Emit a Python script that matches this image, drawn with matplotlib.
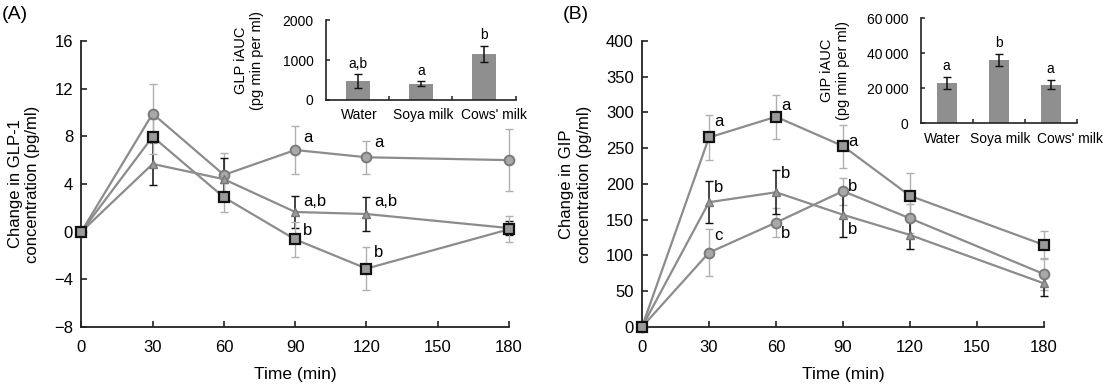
import numpy as np
import matplotlib
matplotlib.use('Agg')
import matplotlib.pyplot as plt
from matplotlib.ticker import FuncFormatter

plt.rcParams['font.family'] = ['Liberation Sans', 'DejaVu Sans']

# time points (min)
times = [0, 30, 60, 90, 120, 180]

# (A) GLP-1 change (pg/ml)
glp_circle = [0, 9.9, 4.76, 6.85, 6.24, 6.0]
glp_circle_err = [0, 2.5, 1.85, 2.0, 1.4, 2.6]
glp_square = [0, 7.97, 2.88, -0.65, -3.1, 0.2]
glp_square_err = [0, 1.45, 1.2, 1.5, 1.8, 1.1]
glp_tri = [0, 5.68, 4.4, 1.65, 1.48, 0.3]
glp_tri_err = [0, 1.8, 1.75, 1.35, 1.4, 0.6]

# (B) GIP change (pg/ml)
gip_square = [0, 265, 294, 253, 183.5, 114.7]
gip_square_err = [0, 31, 31, 30, 32, 19]
gip_tri = [0, 174.5, 188.4, 157, 128.7, 61]
gip_tri_err = [0, 29, 31, 31, 20, 17]
gip_circle = [0, 104, 146, 190, 152, 74]
gip_circle_err = [0, 33, 20, 19, 20, 22]

# significance letters: (time, label y, text)
glp_letters = [(90, 7.86, 'a'), (120, 7.44, 'a'), (90, 2.52, 'a,b'), (120, 2.52, 'a,b'),
               (90, 0.06, 'b'), (120, -1.79, 'b')]
gip_letters = [(30, 287, 'a'), (60, 310, 'a'), (90, 260, 'a'), (30, 195, 'b'), (60, 214, 'b'),
               (30, 128, 'c'), (60, 131, 'b'), (90, 197, 'b'), (90, 136, 'b')]

# inset iAUC bars
drinks = ['Water', 'Soya milk', "Cows' milk"]
glp_auc = [475, 410, 1150]
glp_auc_err = [170, 70, 210]
glp_auc_letters = ['a,b', 'a', 'b']
gip_auc = [23000, 36000, 22000]
gip_auc_err = [3600, 3500, 2700]
gip_auc_letters = ['a', 'b', 'a']

line_c = '#8c8c8c'
err_c = '#b0b0b0'
spine_c = '#222222'


def style_axes(ax):
    for s in ['top', 'right']:
        ax.spines[s].set_visible(False)
    for s in ['left', 'bottom']:
        ax.spines[s].set_linewidth(1.3)
        ax.spines[s].set_color(spine_c)
    ax.tick_params(direction='in', length=4, width=1.2, color=spine_c, labelsize=12)
    ax.tick_params(axis='x', pad=9)
    ax.tick_params(axis='y', pad=6)


def draw_series(ax, y, err, kind):
    if kind == 'circle':
        ax.errorbar(times, y, yerr=err, fmt='none', ecolor=err_c, elinewidth=1, capsize=3, zorder=2, clip_on=False)
        ax.plot(times, y, color=line_c, lw=1.6, marker='o', ms=7, mfc='#a8a8a8', mec='#7a7a7a', mew=1.4,
                zorder=3, clip_on=False)
    elif kind == 'square':
        ax.errorbar(times, y, yerr=err, fmt='none', ecolor=err_c, elinewidth=1, capsize=3, zorder=2, clip_on=False)
        ax.plot(times, y, color=line_c, lw=1.6, marker='s', ms=7, mfc='#9a9a9a', mec='#111111', mew=1.6,
                zorder=4, clip_on=False)
    else:
        ax.errorbar(times, y, yerr=err, fmt='none', ecolor='#111111', elinewidth=1.1, capsize=3, zorder=2,
                    clip_on=False)
        ax.plot(times, y, color=line_c, lw=1.6, marker='^', ms=5.5, mfc='#9a9a9a', mec='#777777', mew=1,
                zorder=3, clip_on=False)


def draw_inset(ax, vals, errs, letters, ymax, yticks, label_x, fmt=None):
    x = np.arange(len(drinks))
    ax.bar(x, vals, width=0.38, color='#8f8f8f', zorder=2)
    ax.errorbar(x, vals, yerr=errs, fmt='none', ecolor='#111111', elinewidth=1.1, capsize=3, zorder=3)
    for xi, v, e, t in zip(x, vals, errs, letters):
        ax.text(xi, v + e + ymax * 0.04, t, ha='center', va='bottom', fontsize=10)
    ax.set_xlim(-0.5, 2.5)
    ax.set_ylim(0, ymax)
    ax.set_yticks(yticks)
    if fmt is not None:
        ax.yaxis.set_major_formatter(FuncFormatter(fmt))
    ax.set_xticks(label_x)
    ax.set_xticklabels(drinks, fontsize=10)
    ax.set_xticks([0.5, 1.5, 2.5], minor=True)
    for s in ['top', 'right']:
        ax.spines[s].set_visible(False)
    for s in ['left', 'bottom']:
        ax.spines[s].set_linewidth(1.2)
        ax.spines[s].set_color(spine_c)
    ax.tick_params(axis='x', which='major', length=0, pad=6)
    ax.tick_params(axis='x', which='minor', direction='in', length=3, width=1.1, color=spine_c)
    ax.tick_params(axis='y', direction='in', length=3, width=1.1, color=spine_c, labelsize=10, pad=9)
    ax.patch.set_alpha(0)


fig = plt.figure(figsize=(11.04, 3.84), dpi=100)

# ---- panel A ----
axA = fig.add_axes([0.0737, 0.1484, 0.3874, 0.745])
draw_series(axA, glp_circle, glp_circle_err, 'circle')
draw_series(axA, glp_tri, glp_tri_err, 'tri')
draw_series(axA, glp_square, glp_square_err, 'square')
axA.set_xlim(0, 180)
axA.set_ylim(-8, 16)
axA.set_xticks([0, 30, 60, 90, 120, 150, 180])
axA.set_yticks([-8, -4, 0, 4, 8, 12, 16])
axA.set_yticklabels(['\u22128', '\u22124', '0', '4', '8', '12', '16'])
style_axes(axA)
axA.set_xlabel('Time (min)', fontsize=12.5, labelpad=9)
axA.set_ylabel('Change in GLP-1\nconcentration (pg/ml)', fontsize=12, labelpad=10)
for t, ly, s in glp_letters:
    axA.annotate(s, xy=(t, ly), xytext=(5.5, 0), textcoords='offset points', va='center', ha='left', fontsize=12)
fig.text(0.002, 0.962, '(A)', fontsize=14, va='center', ha='left')

insA = fig.add_axes([0.2953, 0.7396, 0.1718, 0.2083])
draw_inset(insA, glp_auc, glp_auc_err, glp_auc_letters, 2000, [0, 1000, 2000], [0.03, 1.04, 2.15])
insA.set_ylabel('GLP iAUC\n(pg min per ml)', fontsize=10.5, labelpad=13)

# ---- panel B ----
axB = fig.add_axes([0.5815, 0.1484, 0.3641, 0.745])
draw_series(axB, gip_circle, gip_circle_err, 'circle')
draw_series(axB, gip_tri, gip_tri_err, 'tri')
draw_series(axB, gip_square, gip_square_err, 'square')
axB.set_xlim(0, 180)
axB.set_ylim(0, 400)
axB.set_xticks([0, 30, 60, 90, 120, 150, 180])
axB.set_yticks(np.arange(0, 401, 50))
style_axes(axB)
axB.set_xlabel('Time (min)', fontsize=12.5, labelpad=9)
axB.set_ylabel('Change in GIP\nconcentration (pg/ml)', fontsize=12, labelpad=10)
for t, ly, s in gip_letters:
    axB.annotate(s, xy=(t, ly), xytext=(3.5, 0), textcoords='offset points', va='center', ha='left', fontsize=12)
fig.text(0.510, 0.962, '(B)', fontsize=14, va='center', ha='left')

insB = fig.add_axes([0.834, 0.679, 0.1413, 0.2734])
draw_inset(insB, gip_auc, gip_auc_err, gip_auc_letters, 60000, [0, 20000, 40000, 60000], [-0.08, 1.03, 2.37],
           fmt=lambda v, p: '0' if v == 0 else '{:,.0f}'.format(v).replace(',', '\u2009'))
insB.set_ylabel('GIP iAUC\n(pg min per ml)', fontsize=10.5, labelpad=12)

fig.savefig('out.png', dpi=100)
